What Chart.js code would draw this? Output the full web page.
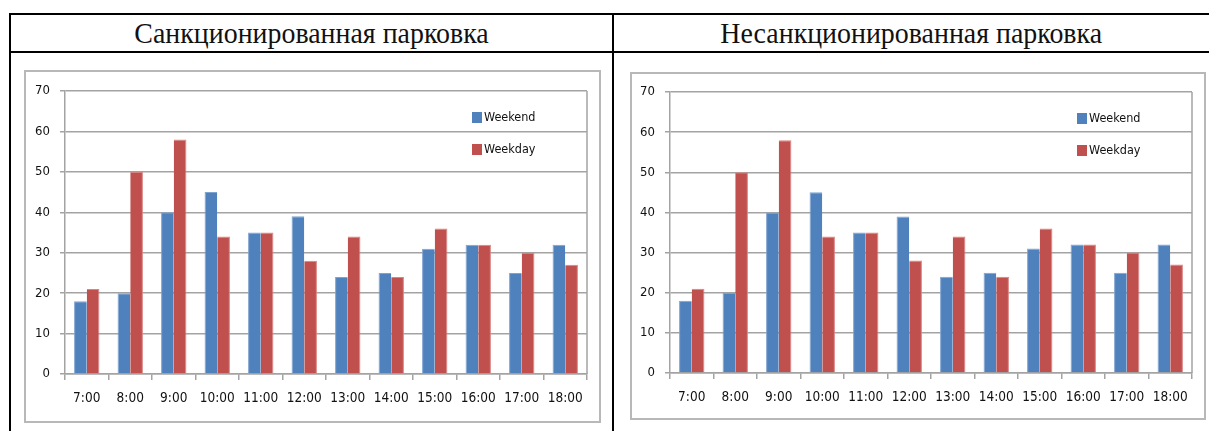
<!DOCTYPE html>
<html>
<head>
<meta charset="utf-8">
<script src="https://cdn.jsdelivr.net/npm/chart.js@4.4.1/dist/chart.umd.min.js"></script>
<style>
  html, body { margin: 0; padding: 0; background: #fff; }
  body { width: 1209px; height: 431px; position: relative; overflow: hidden; }
  .line { position: absolute; background: #000; }
  .head {
    position: absolute; top: 15px; height: 36px;
    font-family: 'Liberation Serif', 'Times New Roman', serif;
    font-size: 30px; line-height: 36px; color: #111;
    text-align: center; white-space: nowrap;
  }
  .head span { display: inline-block; transform: scaleX(0.93); transform-origin: center; }
  .frame { position: absolute; border: 2px solid #b8b8b8; box-sizing: content-box; }
  canvas { display: block; }
</style>
</head>
<body>
<div class="line" style="left:9px; top:13px; width:1200px; height:2px"></div>
<div class="line" style="left:9px; top:51px; width:1200px; height:2px"></div>
<div class="line" style="left:9px; top:13px; width:2px; height:418px"></div>
<div class="line" style="left:612px; top:13px; width:2px; height:418px"></div>

<div class="head" style="left:11px; width:601px"><span>Санкционированная парковка</span></div>
<div class="head" style="left:614px; width:595px"><span>Несанкционированная парковка</span></div>

<div class="frame" style="left:24px; top:70px"><canvas id="c1" width="573" height="349"></canvas></div>
<div class="frame" style="left:630px; top:72px"><canvas id="c2" width="572" height="344"></canvas></div>

<script>
// Hourly counts of parked vehicles
const hours = ['7:00', '8:00', '9:00', '10:00', '11:00', '12:00', '13:00', '14:00', '15:00', '16:00', '17:00', '18:00'];

const sanctionedWeekend = [18, 20, 40, 45, 35, 39, 24, 25, 31, 32, 25, 32];
const sanctionedWeekday = [21, 50, 58, 34, 35, 28, 34, 24, 36, 32, 30, 27];

const unsanctionedWeekend = [18, 20, 40, 45, 35, 39, 24, 25, 31, 32, 25, 32];
const unsanctionedWeekday = [21, 50, 58, 34, 35, 28, 34, 24, 36, 32, 30, 27];

const seriesNames = ['Weekend', 'Weekday'];
const yTicks = [0, 10, 20, 30, 40, 50, 60, 70];

const BLUE = '#4f81bd';
const RED = '#c0504d';
const GRID = '#a3a3a3';
const FONT = "'DejaVu Sans Condensed', 'DejaVu Sans', sans-serif";

// Legend drawn inside the plot, top right
const innerLegend = {
  id: 'innerLegend',
  afterDraw(chart, args, opts) {
    const ctx = chart.ctx;
    ctx.save();
    ctx.font = '12.5px ' + FONT;
    ctx.textBaseline = 'middle';
    ctx.fillStyle = '#111';
    chart.data.datasets.forEach((ds, i) => {
      const y = opts.y + i * opts.gap;
      ctx.fillStyle = ds.backgroundColor;
      ctx.fillRect(opts.x, y, 10, 11);
      ctx.fillStyle = '#111';
      ctx.fillText(ds.label, opts.x + 12, y + 5.5);
    });
    ctx.restore();
  }
};

// Right-hand edge of the plot area
const plotEdge = {
  id: 'plotEdge',
  beforeDatasetsDraw(chart) {
    const { ctx, chartArea } = chart;
    ctx.save();
    ctx.strokeStyle = GRID;
    ctx.lineWidth = 1.5;
    ctx.beginPath();
    ctx.moveTo(chartArea.right, chartArea.top);
    ctx.lineTo(chartArea.right, chartArea.bottom);
    ctx.stroke();
    ctx.restore();
  }
};

function makeChart(id, weekend, weekday, geom) {
  const canvas = document.getElementById(id);
  return new Chart(canvas, {
    type: 'bar',
    data: {
      labels: hours,
      datasets: [
        { label: seriesNames[0], data: weekend, backgroundColor: BLUE, borderColor: '#7fa3d0', borderWidth: { left: 1, top: 1, right: 0, bottom: 0 } },
        { label: seriesNames[1], data: weekday, backgroundColor: RED, borderColor: '#d98482', borderWidth: { left: 0, top: 1, right: 1, bottom: 0 } }
      ]
    },
    options: {
      responsive: false,
      animation: false,
      events: [],
      layout: { padding: { left: 0, top: geom.top, right: canvas.width - geom.right, bottom: 0 } },
      datasets: { bar: { categoryPercentage: 0.583, barPercentage: 1.0 } },
      plugins: {
        legend: { display: false },
        tooltip: { enabled: false },
        innerLegend: { x: geom.legendX, y: geom.legendY, gap: 32 }
      },
      scales: {
        x: {
          afterFit(scale) { scale.height = canvas.height - geom.bottom; },
          grid: { offset: true, drawOnChartArea: false, drawTicks: true, tickLength: 6, color: GRID, lineWidth: 1.5 },
          border: { display: true, color: GRID, width: 1.5 },
          ticks: { color: '#111', font: { family: FONT, size: 13.5 }, padding: 10, maxRotation: 0, autoSkip: false }
        },
        y: {
          min: 0, max: 70,
          afterFit(scale) { scale.width = geom.left; },
          afterBuildTicks(scale) { scale.ticks = yTicks.map(v => ({ value: v })); },
          grid: { color: GRID, lineWidth: 1.5, tickLength: 5 },
          border: { display: true, color: GRID, width: 1.5 },
          ticks: { color: '#111', font: { family: FONT, size: 13 }, padding: 10 }
        }
      }
    },
    plugins: [innerLegend, plotEdge]
  });
}

makeChart('c1', sanctionedWeekend, sanctionedWeekday, { left: 39, right: 561, top: 19, bottom: 302, legendX: 446, legendY: 40 });
makeChart('c2', unsanctionedWeekend, unsanctionedWeekday, { left: 38, right: 560, top: 18, bottom: 299, legendX: 445, legendY: 39 });
</script>
</body>
</html>
